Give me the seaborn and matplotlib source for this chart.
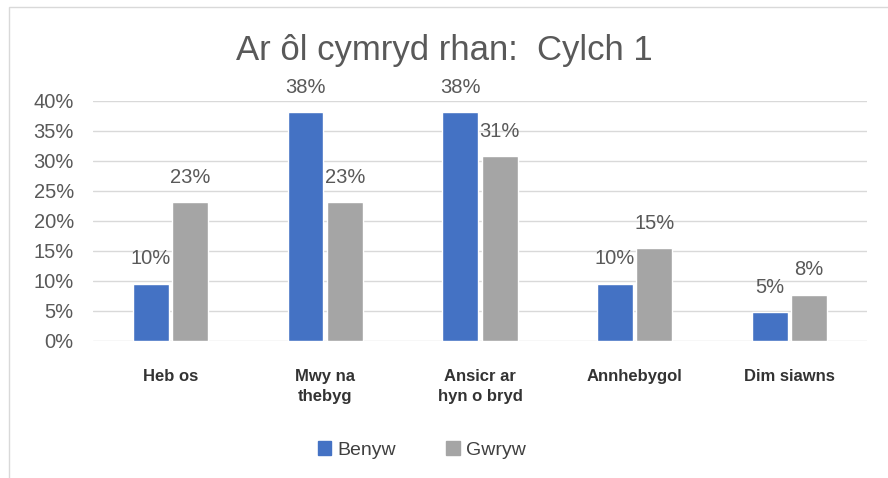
import pandas as pd
import matplotlib.pyplot as plt
import seaborn as sns
from matplotlib.patches import Rectangle

categories = ['Heb os', 'Mwy na\nthebyg', 'Ansicr ar\nhyn o bryd', 'Annhebygol', 'Dim siawns']
benyw = [9.52, 38.1, 38.1, 9.52, 4.76]
gwryw = [23.1, 23.1, 30.8, 15.4, 7.69]
series = ['Benyw', 'Gwryw']
colors = ['#4472C4', '#A5A5A5']

df = pd.DataFrame({
    'cat': categories * 2,
    'val': benyw + gwryw,
    'grp': [series[0]] * len(categories) + [series[1]] * len(categories),
})

sns.set_style('white')
plt.rcParams['font.family'] = ['Liberation Sans', 'DejaVu Sans']

fig = plt.figure(figsize=(8.88, 4.78), dpi=100)
ax = fig.add_axes([0.105, 0.287, 0.871, 0.502])

sns.barplot(data=df, x='cat', y='val', hue='grp', palette=colors, saturation=1,
            width=0.51, gap=0.09, ax=ax, legend=False)

ax.set_ylim(0, 40)
ax.set_yticks(range(0, 41, 5))
ax.set_yticklabels([f'{t}%' for t in range(0, 41, 5)], fontsize=14.5, color='#595959')
ax.yaxis.grid(True, color='#D9D9D9', linewidth=1)
ax.set_axisbelow(True)
for s in ax.spines.values():
    s.set_visible(False)
ax.tick_params(axis='both', length=0)
ax.tick_params(axis='y', pad=14)
ax.set_xlabel('')
ax.set_ylabel('')
ax.set_xticks(range(len(categories)))
ax.set_xticklabels(categories, fontsize=12, color='#333333', fontweight='bold',
                   va='top', linespacing=1.45)
ax.tick_params(axis='x', pad=20)

for p in ax.patches:
    h = p.get_height()
    if h <= 0:
        continue
    ax.annotate(f'{h:.0f}%', (p.get_x() + p.get_width() / 2, h),
                xytext=(0, 11), textcoords='offset points',
                ha='center', va='bottom', fontsize=14.5, color='#595959',
                annotation_clip=False)

fig.text(0.5, 0.895, 'Ar ôl cymryd rhan:  Cylch 1', ha='center', va='center',
         fontsize=25, color='#595959')

handles = [Rectangle((0, 0), 1, 1, color=c) for c in colors]
fig.legend(handles, series, loc='center', bbox_to_anchor=(0.475, 0.058), ncol=2,
           frameon=False, fontsize=14, handlelength=0.7, handleheight=0.7,
           handletextpad=0.3, columnspacing=2.6, labelcolor='#404040')

fig.patches.append(Rectangle((9 / 888, -0.1), 1.2, 1 - 7 / 478 + 0.1,
                             transform=fig.transFigure, fill=False,
                             edgecolor='#D9D9D9', linewidth=1))

fig.savefig('out.png', dpi=100)
